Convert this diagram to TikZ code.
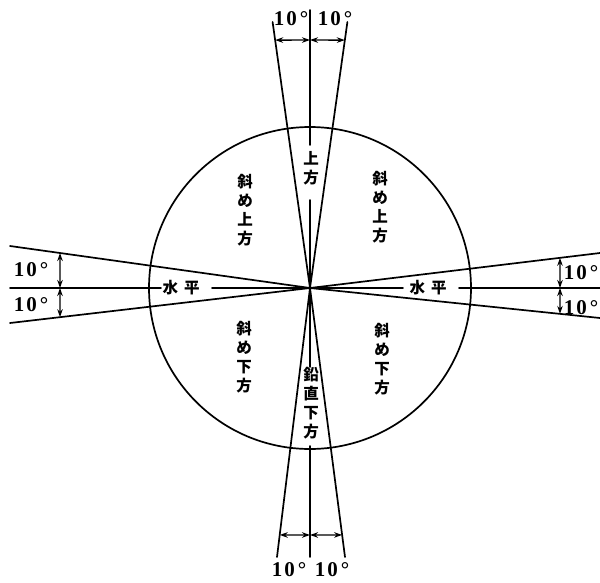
\documentclass[tikz,border=0pt]{standalone}
\usepackage{fontspec}
\setmainfont{Liberation Serif}
\newfontfamily\cjk{Noto Sans CJK JP}
\usetikzlibrary{arrows.meta,calc}
\tikzset{
  ln/.style={line width=1.7pt, line cap=round},
  dim/.style={line width=1.4pt, {Stealth[length=8pt,width=5.5pt]}-{Stealth[length=8pt,width=5.5pt]}},
  deg/.style={font=\bfseries\fontsize{21}{21}\selectfont, inner sep=0pt},
  jv/.style={font=\cjk\bfseries\fontsize{15.5}{19}\selectfont, align=center, inner sep=0pt},
  jh/.style={font=\cjk\bfseries\fontsize{15.5}{19}\selectfont, inner sep=0pt}
}
\newcommand{\tendeg}{1\hspace{2pt}0\hspace{3pt}°}
\begin{document}
\begin{tikzpicture}[x=1pt,y=-1pt]
\useasboundingbox (0,0) rectangle (600,582);
% centre and end points
\coordinate (C) at (310,288);
\coordinate (TL) at (272.6,22);
\coordinate (TR) at (347.4,22);
\coordinate (BL) at (277,557);
\coordinate (BR) at (345,557);
\coordinate (LT) at (10,246);
\coordinate (LB) at (10,323);
\coordinate (RT) at (600,253);
\coordinate (RB) at (600,318);
% axis end points
\coordinate (VT) at (310,10);
\coordinate (VT1) at (310,145);
\coordinate (VT2) at (310,200);
\coordinate (VB1) at (310,367);
\coordinate (VB2) at (310,446);
\coordinate (VB) at (310,557);
\coordinate (HL) at (10,288);
\coordinate (HL1) at (161,288);
\coordinate (HL2) at (212,288);
\coordinate (HR1) at (403,288);
\coordinate (HR2) at (459,288);
\coordinate (HR) at (600,288);
% circle
\draw[ln] (C) circle[radius=161];
% cone lines
\foreach \p in {TL,TR,BL,BR,LT,LB,RT,RB} \draw[ln] (C) -- (\p);
% axes
\draw[ln] (VT) -- (VT1);
\draw[ln] (VT2) -- (C) -- (VB1);
\draw[ln] (VB2) -- (VB);
\draw[ln] (HL) -- (HL1);
\draw[ln] (HL2) -- (C) -- (HR1);
\draw[ln] (HR2) -- (HR);
% dimension arrows: top
\coordinate (ta) at ($(C)!0.932!(TL)$);
\coordinate (tb) at ($(C)!0.932!(TR)$);
\coordinate (tc) at (310,40);
\draw[dim] (ta) -- (tc);
\draw[dim] (tc) -- (tb);
% bottom
\coordinate (ba) at ($(C)!0.918!(BL)$);
\coordinate (bb) at ($(C)!0.918!(BR)$);
\coordinate (bc) at (310,535);
\draw[dim] (ba) -- (bc);
\draw[dim] (bc) -- (bb);
% left
\coordinate (la) at ($(C)!0.8333!(LT)$);
\coordinate (lb) at ($(C)!0.8333!(LB)$);
\coordinate (lc) at (60,288);
\draw[dim] (la) -- (lc);
\draw[dim] (lc) -- (lb);
% right
\coordinate (ra) at ($(C)!0.862!(RT)$);
\coordinate (rb) at ($(C)!0.862!(RB)$);
\coordinate (rc) at (560,288);
\draw[dim] (ra) -- (rc);
\draw[dim] (rc) -- (rb);
% degree labels
\node[deg] (dt1) at (291,19) {\tendeg};
\node[deg] (dt2) at (335,19) {\tendeg};
\node[deg] (db1) at (289,570) {\tendeg};
\node[deg] (db2) at (332,570) {\tendeg};
\node[deg] (dl1) at (31,270) {\tendeg};
\node[deg] (dl2) at (31,305) {\tendeg};
\node[deg] (dr1) at (581,273) {\tendeg};
\node[deg] (dr2) at (581,308) {\tendeg};
% japanese labels
\node[jv] (up) at (311,168) {上\\方};
\node[jv] (ulu) at (245,210) {斜\\め\\上\\方};
\node[jv] (uru) at (380,207) {斜\\め\\上\\方};
\node[jv] (dl) at (244,357) {斜\\め\\下\\方};
\node[jv] (dr) at (382,359) {斜\\め\\下\\方};
\node[jv] (vd) at (311,403) {鉛\\直\\下\\方};
\node[jh] (hl) at (181,288) {水\hspace{6pt}平};
\node[jh] (hr) at (428,288) {水\hspace{6pt}平};
\end{tikzpicture}
\end{document}
